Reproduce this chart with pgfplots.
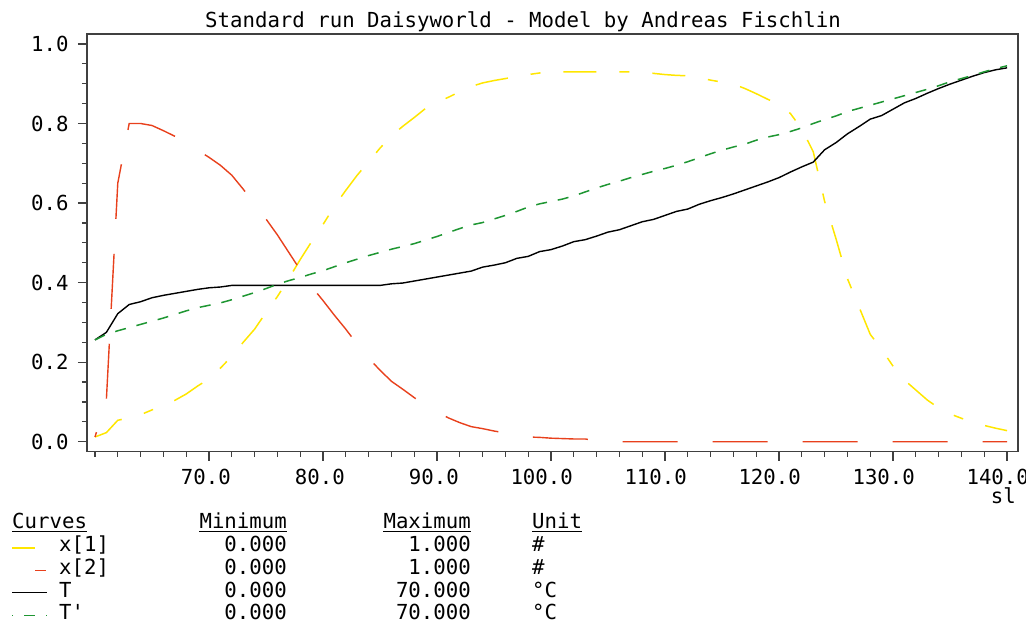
\documentclass[border=0pt]{standalone}
\usepackage{fontspec}
\setmainfont{DejaVu Sans Mono}[Ligatures=TeXOff]
\usepackage{pgfplots}
\usepackage{pgfplotstable}
\pgfplotsset{compat=1.18}
\definecolor{yel}{HTML}{FFE600}
\definecolor{redc}{HTML}{E8401C}
\definecolor{grn}{HTML}{1E9632}
\definecolor{framegray}{HTML}{404040}
\newcommand\fs{\fontsize{20.7pt}{24pt}\selectfont}

\pgfplotstableread{
x   xa     xb     T      Tp
60  0.012  0.012  0.256  0.256
61  0.023  0.106  0.275  0.270
62  0.054  0.650  0.322  0.279
63  0.060  0.800  0.345  0.287
64  0.068  0.800  0.352  0.295
65  0.080  0.795  0.362  0.303
66  0.092  0.782  0.368  0.311
67  0.104  0.768  0.373  0.320
68  0.120  0.752  0.378  0.329
69  0.140  0.733  0.383  0.337
70  0.158  0.715  0.387  0.343
71  0.185  0.695  0.389  0.349
72  0.215  0.670  0.393  0.357
73  0.250  0.635  0.393  0.366
74  0.283  0.598  0.393  0.375
75  0.325  0.560  0.393  0.385
76  0.365  0.520  0.393  0.396
77  0.410  0.476  0.393  0.405
78  0.458  0.432  0.393  0.413
79  0.503  0.390  0.393  0.422
80  0.546  0.355  0.393  0.430
81  0.592  0.318  0.393  0.440
82  0.632  0.283  0.393  0.450
83  0.670  0.245  0.393  0.459
84  0.704  0.210  0.393  0.468
85  0.738  0.180  0.393  0.476
86  0.769  0.152  0.397  0.484
87  0.793  0.132  0.399  0.491
88  0.815  0.111  0.404  0.498
89  0.838  0.091  0.409  0.507
90  0.853  0.075  0.414  0.516
91  0.866  0.060  0.419  0.526
92  0.880  0.048  0.424  0.536
93  0.893  0.038  0.429  0.545
94  0.902  0.033  0.439  0.551
95  0.908  0.027  0.444  0.560
96  0.913  0.022  0.450  0.569
97  0.918  0.017  0.461  0.579
98  0.923  0.012  0.466  0.590
99  0.927  0.011  0.478  0.598
100 0.929  0.009  0.483  0.604
101 0.930  0.008  0.492  0.610
102 0.930  0.007  0.503  0.618
103 0.930  0.007  0.508  0.628
104 0.930  0.002  0.517  0.638
105 0.930  0.000  0.527  0.647
106 0.930  0.000  0.533  0.655
107 0.930  0.000  0.543  0.664
108 0.930  0.000  0.553  0.672
109 0.926  0.000  0.559  0.680
110 0.923  0.000  0.569  0.687
111 0.921  0.000  0.579  0.695
112 0.920  0.000  0.585  0.704
113 0.915  0.000  0.597  0.714
114 0.909  0.000  0.606  0.724
115 0.904  0.000  0.614  0.733
116 0.899  0.000  0.623  0.741
117 0.888  0.000  0.633  0.748
118 0.875  0.000  0.643  0.758
119 0.861  0.000  0.653  0.766
120 0.848  0.000  0.664  0.772
121 0.825  0.000  0.678  0.780
122 0.786  0.000  0.691  0.789
123 0.729  0.000  0.703  0.800
124 0.604  0.000  0.734  0.810
125 0.510  0.000  0.752  0.819
126 0.410  0.000  0.774  0.830
127 0.340  0.000  0.792  0.838
128 0.270  0.000  0.811  0.846
129 0.232  0.000  0.820  0.854
130 0.190  0.000  0.836  0.862
131 0.155  0.000  0.852  0.870
132 0.130  0.000  0.863  0.878
133 0.105  0.000  0.876  0.886
134 0.085  0.000  0.888  0.895
135 0.070  0.000  0.899  0.905
136 0.059  0.000  0.909  0.913
137 0.049  0.000  0.919  0.921
138 0.041  0.000  0.928  0.930
139 0.034  0.000  0.935  0.938
140 0.028  0.000  0.940  0.945
}\data

\begin{document}
\begin{tikzpicture}[x=1pt,y=1pt]
\useasboundingbox (0,0) rectangle (1026,622);
\begin{axis}[
  at={(87pt,170.3pt)}, anchor=south west,
  scale only axis, width=931pt, height=417.7pt,
  xmin=59.3, xmax=140.96, ymin=-0.025, ymax=1.025,
  axis line style={draw=framegray, line width=1.3pt},
  tick align=outside, tick pos=left,
  xtick={70,80,...,140},
  minor xtick={60,62,...,140},
  ytick={0,0.2,0.4,0.6,0.8,1.0},
  minor ytick={0.05,0.1,0.15,0.25,0.3,0.35,0.45,0.5,0.55,0.65,0.7,0.75,0.85,0.9,0.95},
  major tick length=9pt, minor tick length=5pt,
  every tick/.append style={framegray, line width=1.2pt},
  /pgf/number format/assume math mode=true,
  /pgf/number format/.cd, fixed, fixed zerofill, precision=1,
  /pgfplots/.cd,
  tick label style={font=\fs},
  yticklabel style={xshift=-6pt},
  xticklabel style={anchor=north east, inner sep=0pt, xshift=22pt, yshift=-7.9pt},
]
\addplot[yel, line width=1.5pt, dash pattern=on 33pt off 23pt on 10pt off 23pt] table[x=x,y=xa] {\data};
\addplot[redc, line width=1.4pt, dash pattern=on 55pt off 35pt, dash phase=50pt] table[x=x,y=xb] {\data};
\addplot[black, line width=1.4pt] table[x=x,y=T] {\data};
\addplot[grn, line width=1.5pt, dash pattern=on 11pt off 11pt] table[x=x,y=Tp] {\data};
\end{axis}
% title and axis name
\node[anchor=base, inner sep=0, font=\fs] at (523,594) {Standard run Daisyworld - Model by Andreas Fischlin};
\node[anchor=base east, inner sep=0, font=\fs] at (1016,119) {sl};
% legend table
\begin{scope}[every node/.style={inner sep=0, font=\fs}]
\node[anchor=base west] (h1) at (12,93.5) {Curves};
\node[anchor=base east] (h2) at (287,93.5) {Minimum};
\node[anchor=base east] (h3) at (471,93.5) {Maximum};
\node[anchor=base west] (h4) at (532,93.5) {Unit};
\foreach \n in {h1,h2,h3,h4}{\draw[line width=1.1pt] ([yshift=-3pt]\n.base west) -- ([yshift=-3pt]\n.base east);}
\node[anchor=base west] at (59,70.5) {x[1]};
\node[anchor=base east] at (287,70.5) {0.000};
\node[anchor=base east] at (471,70.5) {1.000};
\node[anchor=base west] at (532,70.5) {\#};
\node[anchor=base west] at (59,47.5) {x[2]};
\node[anchor=base east] at (287,47.5) {0.000};
\node[anchor=base east] at (471,47.5) {1.000};
\node[anchor=base west] at (532,47.5) {\#};
\node[anchor=base west] at (59,25) {T};
\node[anchor=base east] at (287,25) {0.000};
\node[anchor=base east] at (471,25) {70.000};
\node[anchor=base west] at (532,25) {°C};
\node[anchor=base west] at (59,3) {T'};
\node[anchor=base east] at (287,3) {0.000};
\node[anchor=base east] at (471,3) {70.000};
\node[anchor=base west] at (532,3) {°C};
\end{scope}
\draw[yel, line width=2pt] (12,74.5) -- (35,74.5);
\draw[redc, line width=1.5pt] (35,51.5) -- (46,51.5);
\draw[black, line width=1.4pt] (12,29.5) -- (47,29.5);
\draw[grn, line width=1.6pt] (12,6.5) -- (13,6.5) (24,6.5) -- (35,6.5) (46,6.5) -- (47,6.5);
\end{tikzpicture}
\end{document}
